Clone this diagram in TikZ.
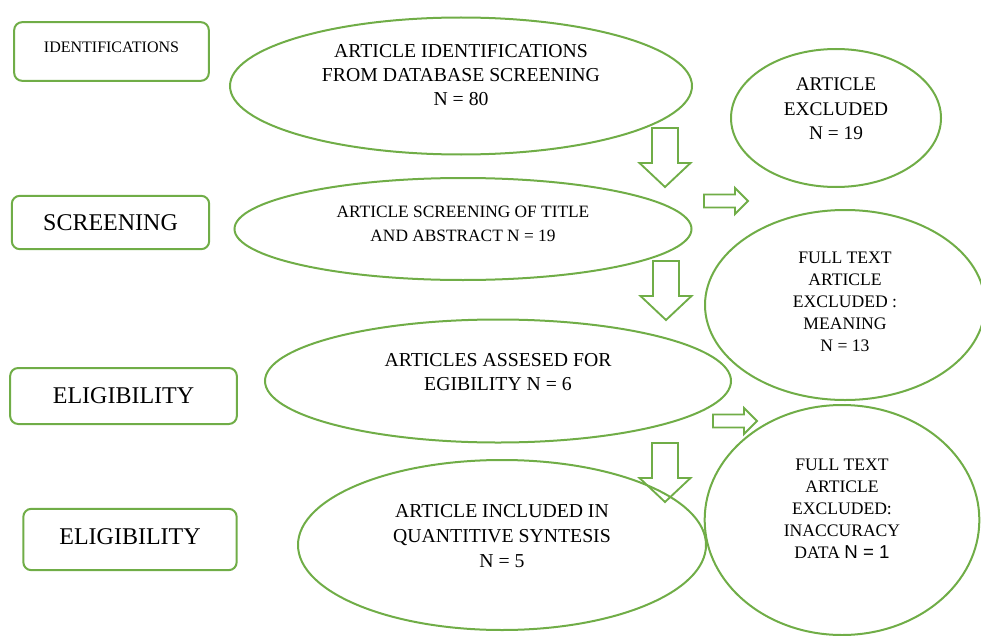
\documentclass[tikz,border=0pt]{standalone}
\usepackage{fontspec}
\setmainfont{Liberation Serif}
\newfontfamily\arialfont{Liberation Sans}
\usetikzlibrary{shapes.geometric}
\definecolor{officegreen}{RGB}{112,173,71}

\begin{document}
\begin{tikzpicture}[x=0.75pt,y=-0.75pt]
\tikzstyle{stage}=[draw=officegreen,line width=1.5pt,rounded corners=6pt,inner sep=0pt]
\tikzstyle{oval}=[draw=officegreen,line width=1.5pt,ellipse,inner sep=0pt]
\tikzstyle{words}=[align=center,inner sep=0pt]
\tikzstyle{blockarr}=[draw=officegreen,line width=1.4pt,line join=miter]

\useasboundingbox (0,0) rectangle (981,635);

% stages on the left
\node[stage,minimum width=146pt,minimum height=44pt,font=\fontsize{12}{14}\selectfont] (ident) at (111.5,51.5) {\raisebox{7pt}{IDENTIFICATIONS}};
\node[stage,minimum width=148pt,minimum height=40pt,font=\fontsize{18}{20}\selectfont] (screen) at (110.5,222.5) {SCREENING};
\node[stage,minimum width=170pt,minimum height=42pt,font=\fontsize{18}{20}\selectfont] (elig) at (123.5,396) {ELIGIBILITY};
\node[stage,minimum width=160pt,minimum height=46pt,font=\fontsize{18}{20}\selectfont] (incl) at (130,539.5) {\raisebox{5pt}{ELIGIBILITY}};

% main flow
\node[oval,minimum width=346.5pt,minimum height=102.75pt] (found) at (461,86) {};
\node[words,font=\fontsize{14.8}{18}\selectfont] (foundtxt) at (461,75) {ARTICLE IDENTIFICATIONS\\FROM DATABASE SCREENING\\N = 80};

\node[oval,minimum width=342.75pt,minimum height=76.5pt] (title) at (463,229) {};
\node[words,font=\fontsize{13}{18}\selectfont] (titletxt) at (463,224) {ARTICLE SCREENING OF TITLE\\AND ABSTRACT N = 19};

\node[oval,minimum width=349.5pt,minimum height=92.25pt] (assess) at (498,381) {};
\node[words,font=\fontsize{14.8}{18}\selectfont] (assesstxt) at (498,372) {ARTICLES ASSESED FOR\\EGIBILITY N = 6};

\node[oval,minimum width=306pt,minimum height=127.5pt] (synth) at (502,545) {};
\node[words,font=\fontsize{14.8}{18.75}\selectfont] (synthtxt) at (502,536) {ARTICLE INCLUDED IN\\QUANTITIVE SYNTESIS\\N = 5};

% exclusions on the right
\node[oval,minimum width=157.5pt,minimum height=103.5pt] (out1) at (836,118) {};
\node[words,font=\fontsize{14.5}{18.4}\selectfont] (out1txt) at (836,109) {ARTICLE\\EXCLUDED\\N = 19};

\node[oval,minimum width=210pt,minimum height=142.5pt] (out2) at (845,305) {};
\node[words,font=\fontsize{13.2}{16.5}\selectfont] (out2txt) at (845,302) {FULL TEXT\\ARTICLE\\EXCLUDED :\\MEANING\\N = 13};

\node[oval,minimum width=206pt,minimum height=172.5pt] (out3) at (842,520) {};
\node[words,font=\fontsize{13.2}{16.5}\selectfont] (out3txt) at (842,509) {FULL TEXT\\ARTICLE\\EXCLUDED:\\INACCURACY\\DATA {\arialfont\fontsize{14}{16.5}\selectfont N = 1}};

% block arrows down
\foreach \x/\y in {665/128,666/261,665/443}
  \draw[blockarr] (\x-13,\y) -- ++(26,0) -- ++(0,35) -- ++(12.5,0) -- (\x,\y+59)
    -- (\x-25.5,\y+35) -- ++(12.5,0) -- cycle;

% block arrows to the side
\foreach \x/\y in {704/201,713/421}
  \draw[blockarr] (\x,\y-6.5) -- ++(31,0) -- ++(0,-6.5) -- (\x+44,\y)
    -- (\x+31,\y+13) -- ++(0,-6.5) -- (\x,\y+6.5) -- cycle;
\end{tikzpicture}
\end{document}
